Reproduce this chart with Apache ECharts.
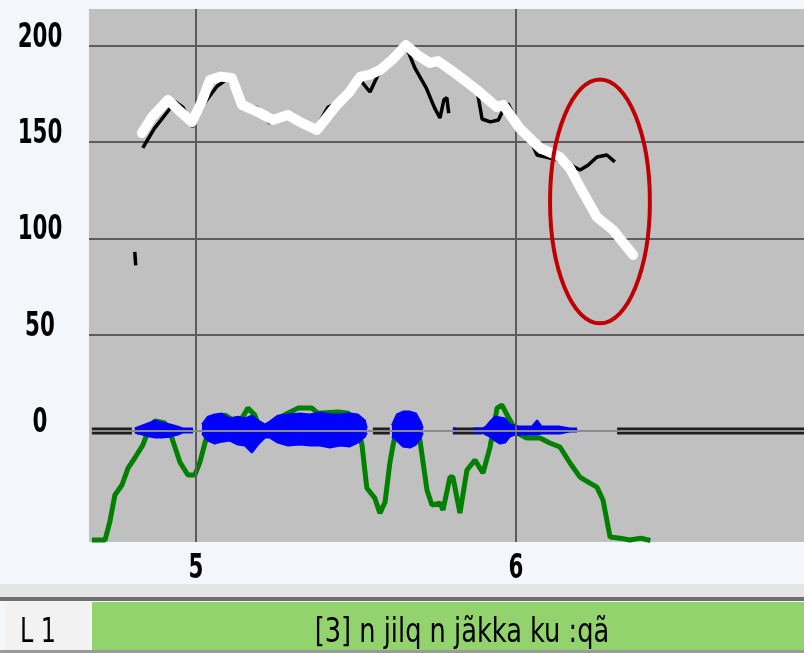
<!DOCTYPE html>
<html>
<head>
<meta charset="utf-8">
<script src="https://cdn.jsdelivr.net/npm/echarts@6/dist/echarts.min.js"></script>
<style>
html,body{margin:0;padding:0;background:#f3f6fb;}
#c{width:804px;height:653px;}
</style>
</head>
<body>
<div id="c"></div>
<script>
// ---- axis ticks ----
const xTickValues = [5, 6];
const yTickValues = [0, 50, 100, 150, 200];
const yGridValues = [50, 100, 150, 200];

// ---- white pitch contour (Hz) ----
const whiteTime = [4.831, 4.8625, 4.9125, 4.95, 4.9875, 5.016, 5.044, 5.078, 5.1125, 5.144, 5.2, 5.24, 5.2875, 5.325, 5.378, 5.41, 5.44, 5.48, 5.5125, 5.544, 5.575, 5.615, 5.656, 5.694, 5.731, 5.756, 5.8, 5.84, 5.878, 5.94, 5.96, 6.0125, 6.075, 6.1375, 6.17, 6.2, 6.253, 6.303, 6.366];
const whiteHz = [154.7, 163, 171.9, 166, 160.4, 170, 182.2, 184, 183.3, 169.3, 165.1, 161.5, 164.1, 160.4, 156.3, 163, 169.3, 176, 183.8, 185, 187.4, 193, 200.4, 195, 191.1, 192.1, 187, 182, 177.1, 168.2, 169.3, 157, 147, 142.3, 136, 126.7, 111.1, 104.4, 91.4];

// ---- black pitch track (Hz), '-' = gap ----
const blackTime = [4.809, 4.812, 4.82, 4.834, 4.87, 4.9125, 4.935, 4.96, 4.99, 5.03, 5.066, 5.10, 5.14, 5.19, 5.23, 5.28, 5.325, 5.37, 5.4125, 5.46, 5.51, 5.544, 5.575, 5.615, 5.656, 5.684, 5.72, 5.745, 5.7625, 5.775, 5.784, 5.79, 5.80, 5.82, 5.84, 5.878, 5.89, 5.894, 5.92, 5.945, 5.955, 5.975, 6.0, 6.04, 6.066, 6.106, 6.15, 6.2, 6.225, 6.253, 6.284, 6.309];
const blackHz = [93, 86, '-', 147, 157, 166, 171, 168, 158, 171, 179, 183, 170, 168, 160, 163.5, 160, 156, 168, 172, 183, 176, 187, 193, 200, 188.5, 178, 168, 162.5, 172, 173, 165, '-', 185, 182, 177, 166, 162, 160.5, 161.5, 165, 170, 162, 153, 143.3, 141.7, 140, 135.5, 138, 142.3, 143.3, 139.7];

// ---- green intensity curve ----
const greenTime = [4.675, 4.716, 4.731, 4.747, 4.769, 4.788, 4.809, 4.834, 4.856, 4.872, 4.903, 4.925, 4.95, 4.975, 4.997, 5.0125, 5.0375, 5.066, 5.091, 5.116, 5.144, 5.1625, 5.184, 5.209, 5.225, 5.256, 5.319, 5.3625, 5.381, 5.444, 5.475, 5.503, 5.519, 5.534, 5.559, 5.575, 5.591, 5.606, 5.616, 5.631, 5.653, 5.675, 5.7, 5.722, 5.7375, 5.7625, 5.772, 5.794, 5.803, 5.825, 5.847, 5.872, 5.897, 5.919, 5.941, 5.956, 5.981, 6.003, 6.034, 6.075, 6.106, 6.1375, 6.169, 6.2, 6.231, 6.253, 6.272, 6.294, 6.325, 6.356, 6.39, 6.42];
const greenValues = [-56.6, -56.6, -47.2, -33.2, -28.0, -19.2, -14.0, -7.3, 2.1, 5.2, 4.2, -3.6, -16.1, -22.8, -22.8, -16.1, -0.5, 6.7, 8.3, 5.7, 6.7, 11.9, 8.3, -2.1, -0.5, 6.7, 11.9, 11.9, 9.3, 9.9, 9.3, 4.7, -7.3, -29.6, -34.8, -42.6, -36.9, -16.6, -7.3, 3.1, 6.7, 5.7, -4.7, -30.6, -38.4, -37.4, -41.0, -23.9, -23.9, -42.6, -20.2, -15.1, -21.8, -8.3, 11.9, 13.5, 5.7, -1.0, -3.6, -3.6, -6.2, -8.3, -16.6, -23.9, -27.0, -29.1, -35.8, -55.0, -55.6, -56.6, -55.6, -56.8];

// ---- blue waveform envelope ----
const waveTime = [4.809, 4.856, 4.872, 4.894, 4.919, 4.944, 4.959, 4.975, 4.991, 4.995, 5.019, 5.0375, 5.059, 5.081, 5.106, 5.131, 5.153, 5.175, 5.194, 5.216, 5.231, 5.256, 5.2875, 5.325, 5.356, 5.3875, 5.419, 5.45, 5.481, 5.506, 5.528, 5.534, 5.56, 5.6125, 5.628, 5.647, 5.669, 5.6875, 5.703, 5.709, 5.75, 5.803, 5.8125, 5.84, 5.866, 5.894, 5.906, 5.919, 5.934, 5.95, 5.966, 5.981, 5.997, 6.0125, 6.05, 6.066, 6.08, 6.1375, 6.169, 6.191];
const waveUp = [1.3, 4.4, 5.5, 4.4, 3.4, 2.3, 1.3, 1.3, 1.3, '-', 3.4, 7.5, 8.6, 9.1, 6.5, 7.5, 6.5, 8.0, 5.5, 3.4, 4.9, 8.0, 8.6, 9.1, 8.6, 9.6, 8.6, 8.6, 9.1, 8.6, 5.5, 1.3, '-', 2.9, 8.6, 10.1, 10.1, 9.1, 4.4, 1.3, '-', 1.3, 1.3, '-', 1.3, 1.3, 2.3, 4.9, 7.5, 7.0, 6.5, 3.4, 2.9, 2.3, 2.3, 5.5, 2.3, 2.3, 1.3, 1.3];
const waveDown = [-0.8, -2.9, -3.4, -3.4, -2.9, -1.8, -0.8, -0.8, -0.8, '-', -1.3, -4.9, -6.5, -5.5, -4.9, -7.0, -7.5, -11.2, -7.0, -3.4, -3.4, -6.0, -7.5, -7.0, -7.5, -7.5, -8.6, -7.5, -8.0, -6.0, -2.9, -0.8, '-', -2.9, -4.9, -8.0, -8.6, -7.0, -3.4, -0.8, '-', -0.8, -0.8, '-', -0.8, -0.8, -1.8, -2.9, -4.9, -6.5, -6.0, -2.9, -1.8, -1.8, -1.8, -1.8, -1.3, -1.3, -0.3, -0.3];

// ---- silent stretches on the zero line ----
const silenceStart = [4.675, 4.816, 5.553, 5.803, 6.316];
const silenceEnd = [4.8, 4.831, 5.606, 5.894, 6.9];
const baselineRange = [4.675, 6.9];

// ---- highlighted region (ellipse): centre and radii in data units ----
const highlightCenter = [6.2625, 119.2];
const highlightRadius = [0.156, 63.3];

// ---- tier label ----
const tierName = 'L 1';
const tierText = '[3] n jilq n jãkka ku :qã';

const X_MIN = 4.666, X_MAX = 6.9, Y_MIN = -57.6, Y_MAX = 219.1;
const zip = (a, b) => a.map((v, i) => [v, b[i]]);
const silenceData = [];
silenceStart.forEach((s, i) => { silenceData.push([s, 0], [silenceEnd[i], 0], [silenceEnd[i], '-']); });

const FAM = '"DejaVu Sans Condensed", "DejaVu Sans", sans-serif';
const TICK_FONT = 'bold 34px ' + FAM;

const chart = echarts.init(document.getElementById('c'), null, {renderer: 'canvas'});
chart.setOption({
  animation: false,
  backgroundColor: '#f3f6fb',
  grid: {left: 89, right: 0, top: 9, bottom: 111, show: true, backgroundColor: '#c0c0c0', borderWidth: 0},
  xAxis: {
    type: 'value', min: X_MIN, max: X_MAX,
    axisLine: {show: false}, axisTick: {show: false}, splitLine: {show: false}, axisLabel: {show: false}
  },
  yAxis: {
    type: 'value', min: Y_MIN, max: Y_MAX,
    axisLine: {show: false}, axisTick: {show: false}, splitLine: {show: false}, axisLabel: {show: false}
  },
  series: [
    {
      type: 'line', name: 'silence', data: silenceData, showSymbol: false, connectNulls: false,
      lineStyle: {color: '#1e1e1e', width: 7}, z: 2, silent: true,
      markLine: {
        silent: true, symbol: ['none', 'none'], label: {show: false},
        lineStyle: {color: '#5c5c5c', width: 2, type: 'solid'},
        data: xTickValues.map(v => ({xAxis: v})).concat(yGridValues.map(v => ({yAxis: v})))
      }
    },
    {
      type: 'line', name: 'intensity', data: zip(greenTime, greenValues), showSymbol: false,
      lineStyle: {color: '#008000', width: 5}, z: 3, silent: true
    },
    {
      type: 'line', name: 'waveUp', data: zip(waveTime, waveUp), showSymbol: false, connectNulls: false,
      lineStyle: {color: '#0000ff', width: 2}, areaStyle: {color: '#0000ff', opacity: 1, origin: 'auto'}, z: 4, silent: true
    },
    {
      type: 'line', name: 'waveDown', data: zip(waveTime, waveDown), showSymbol: false, connectNulls: false,
      lineStyle: {color: '#0000ff', width: 2}, areaStyle: {color: '#0000ff', opacity: 1, origin: 'auto'}, z: 4, silent: true
    },
    {
      type: 'line', name: 'baseline', data: baselineRange.map(t => [t, 0]), showSymbol: false,
      lineStyle: {color: '#8a8a8a', width: 2}, z: 5, silent: true
    },
    {
      type: 'line', name: 'pitchBlack', data: zip(blackTime, blackHz), showSymbol: false, connectNulls: false,
      lineStyle: {color: '#000', width: 3.5}, z: 6, silent: true
    },
    {
      type: 'line', name: 'pitchWhite', data: zip(whiteTime, whiteHz), showSymbol: false,
      lineStyle: {color: '#fff', width: 10, cap: 'round', join: 'round'}, z: 7, silent: true
    },
    {
      type: 'custom', name: 'highlight', data: [[highlightCenter[0], highlightCenter[1], highlightRadius[0], highlightRadius[1]]], z: 8, silent: true,
      renderItem: function (params, api) {
        const c = api.coord([api.value(0), api.value(1)]);
        const s = api.size([api.value(2), api.value(3)]);
        return {type: 'ellipse', shape: {cx: c[0], cy: c[1], rx: s[0], ry: s[1]}, style: {fill: null, stroke: '#c00000', lineWidth: 4}};
      }
    },
    {
      // y tick labels, placed through the y scale
      type: 'custom', name: 'yTickLabels', data: yTickValues.map(v => [X_MIN, v]), z: 9, silent: true, clip: false,
      renderItem: function (params, api) {
        const p = api.coord([api.value(0), api.value(1)]);
        return {type: 'text', x: p[0] - 49, y: p[1] - 25, scaleX: 0.7, scaleY: 1,
          style: {text: String(yTickValues[params.dataIndex]), x: 0, y: 0, align: 'center', verticalAlign: 'top', font: TICK_FONT, fill: '#000'}};
      }
    },
    {
      // x tick labels, placed through the x scale
      type: 'custom', name: 'xTickLabels', data: xTickValues.map(v => [v, Y_MIN]), z: 9, silent: true, clip: false,
      renderItem: function (params, api) {
        const p = api.coord([api.value(0), api.value(1)]);
        return {type: 'text', x: p[0], y: p[1] + 10, scaleX: 0.7, scaleY: 1,
          style: {text: String(xTickValues[params.dataIndex]), x: 0, y: 0, align: 'center', verticalAlign: 'top', font: TICK_FONT, fill: '#000'}};
      }
    }
  ],
  graphic: [
    {type: 'rect', left: 0, top: 584, shape: {width: 804, height: 13}, style: {fill: '#e4e4e4'}},
    {type: 'rect', left: 0, top: 597, shape: {width: 804, height: 4}, style: {fill: '#6e6e6e'}},
    {type: 'rect', left: 5, top: 602, shape: {width: 85, height: 48}, style: {fill: '#f2f2f2'}},
    {type: 'rect', left: 92, top: 602, shape: {width: 712, height: 48}, style: {fill: '#92d36e'}},
    {type: 'rect', left: 0, top: 650, shape: {width: 804, height: 3}, style: {fill: '#9a9a9a'}},
    {type: 'text', x: 38, y: 616, scaleX: 0.78, style: {text: tierName, x: 0, y: 0, align: 'center', verticalAlign: 'top', font: '34px ' + FAM, fill: '#000'}},
    {type: 'text', x: 462, y: 616, scaleX: 0.84, style: {text: tierText, x: 0, y: 0, align: 'center', verticalAlign: 'top', font: '34px ' + FAM, fill: '#000'}}
  ]
});
</script>
</body>
</html>
